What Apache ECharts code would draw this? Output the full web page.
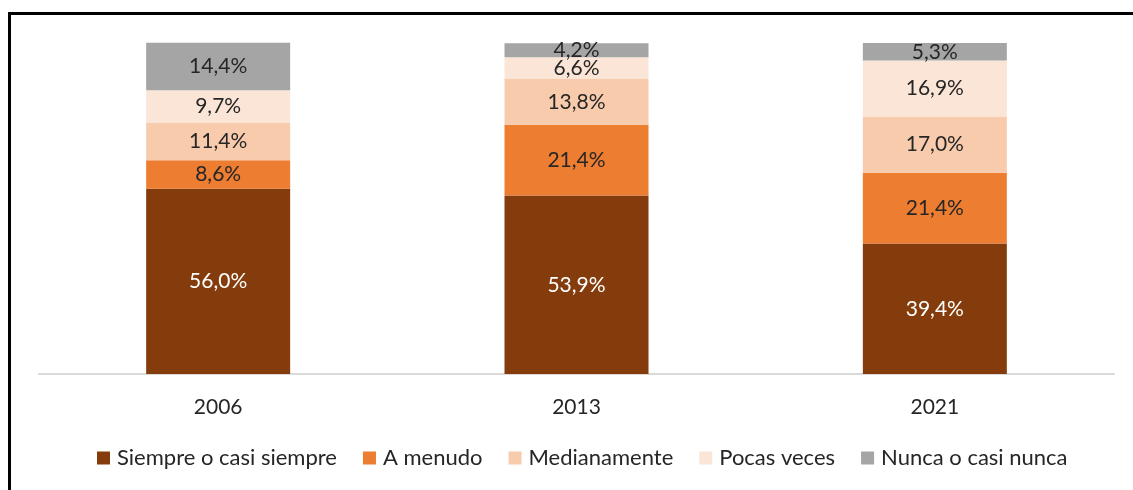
<!DOCTYPE html>
<html>
<head>
<meta charset="utf-8">
<script src="https://cdn.jsdelivr.net/npm/echarts@6/dist/echarts.min.js"></script>
<style>
  html, body { margin: 0; padding: 0; background: #fff; overflow: hidden; }
  #frame {
    position: absolute; left: 8px; top: 12px; width: 1200px; height: 600px;
    border-left: 3px solid #000; border-top: 3px solid #000;
  }
  #chart { position: absolute; left: 0; top: 0; width: 1133px; height: 490px; }
</style>
</head>
<body>
<div id="frame"></div>
<div id="chart"></div>
<script>
'use strict';

var years = ['2006', '2013', '2021'];
var seriesNames = ['Siempre o casi siempre', 'A menudo', 'Medianamente', 'Pocas veces', 'Nunca o casi nunca'];
var siempre = [56.0, 53.9, 39.4];
var aMenudo = [8.6, 21.4, 21.4];
var medianamente = [11.4, 13.8, 17.0];
var pocasVeces = [9.7, 6.6, 16.9];
var nunca = [14.4, 4.2, 5.3];

var colors = ['#843C0C', '#ED7D31', '#F8CBAD', '#FBE5D6', '#A5A5A5'];
var labelColors = ['#ffffff', '#262626', '#262626', '#262626', '#262626'];
var values = [siempre, aMenudo, medianamente, pocasVeces, nunca];

var fontName = 'Lato';

var chart = echarts.init(document.getElementById('chart'));
chart.setOption({
    animation: false,
    color: colors,
    grid: {
        left: 39,
        right: 19,
        top: 43,
        bottom: 116
    },
    legend: {
        bottom: 16,
        left: 92,
        itemWidth: 13,
        itemHeight: 13,
        itemGap: 26,
        icon: 'rect',
        textStyle: { fontFamily: fontName, fontSize: 22, color: '#262626', padding: [0, 0, 0, 2] },
        data: seriesNames
    },
    xAxis: {
        type: 'category',
        data: years,
        axisLine: { lineStyle: { color: '#d9d9d9', width: 2 } },
        axisTick: { show: false },
        axisLabel: { fontFamily: fontName, fontSize: 21, color: '#262626', margin: 23 }
    },
    yAxis: {
        type: 'value',
        min: 0,
        max: 100,
        show: false,
        splitLine: { show: false }
    },
    series: seriesNames.map(function (name, i) {
        return {
            name: name,
            type: 'bar',
            stack: 'total',
            barWidth: 144,
            clip: false,
            data: values[i],
            itemStyle: { color: colors[i] },
            label: {
                show: true,
                position: 'inside',
                fontFamily: fontName,
                fontSize: 21,
                color: labelColors[i],
                formatter: function (p) {
                    return p.value.toFixed(1).replace('.', ',') + '%';
                }
            }
        };
    })
});
</script>
</body>
</html>
